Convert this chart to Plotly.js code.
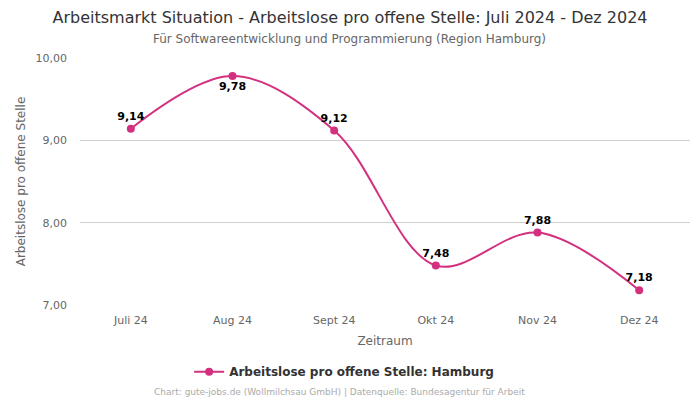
<!DOCTYPE html>
<html>
<head>
<meta charset="utf-8">
<script src="https://cdn.plot.ly/plotly-3.0.1.min.js"></script>
<style>
  html, body { margin: 0; padding: 0; background: #fff; }
  #chart { width: 700px; height: 400px; }
</style>
</head>
<body>
<div id="chart"></div>
<script>
/* Arbeitslose pro offene Stelle — Hamburg, Jul–Dez 2024 */
const months = ["Juli 24", "Aug 24", "Sept 24", "Okt 24", "Nov 24", "Dez 24"];
const values = [9.14, 9.78, 9.12, 7.48, 7.88, 7.18];
const labelPos = ["top center", "bottom center", "top center", "top center", "top center", "top center"];
const yTicks = [7, 8, 9, 10];

const PINK = "#d3317f";
const FONT = "DejaVu Sans, sans-serif";

const trace = {
  type: "scatter", mode: "lines+markers+text",
  name: "Arbeitslose pro offene Stelle: Hamburg",
  x: months, y: values,
  text: values.map(v => v.toFixed(2).replace(".", ",")),
  textposition: labelPos,
  textfont: { family: FONT, size: 11, color: "#000", weight: "bold" },
  line: { color: PINK, width: 2, shape: "spline", smoothing: 1 },
  marker: { color: PINK, size: 8 },
  cliponaxis: false,
  hoverinfo: "x+y",
};

const layout = {
  width: 700, height: 400,
  margin: { l: 80, r: 10, t: 58, b: 95, autoexpand: false },
  paper_bgcolor: "#fff", plot_bgcolor: "#fff",
  font: { family: FONT, size: 11, color: "#666" },
  separators: ",.",
  title: {
    text: "Arbeitsmarkt Situation - Arbeitslose pro offene Stelle: Juli 2024 - Dez 2024",
    font: { family: FONT, size: 16, color: "#333" },
    x: 0.5, xanchor: "center", y: 0.957, yanchor: "middle",
  },
  xaxis: {
    type: "category", range: [-0.5, 5.5], tickangle: 0,
    showgrid: false, zeroline: false, showline: false,
    ticks: "", ticklabelstandoff: 7, tickfont: { size: 11, color: "#666" },
    title: { text: "Zeitraum", font: { size: 12, color: "#666" }, standoff: 10 },
  },
  yaxis: {
    range: [7, 10], tickvals: yTicks, tickformat: ".2f",
    showgrid: true, gridcolor: "#d0d0d0", zeroline: false, showline: false,
    ticks: "", ticklabelstandoff: 12, tickfont: { size: 11, color: "#666" },
    title: { text: "Arbeitslose pro offene Stelle", font: { size: 12, color: "#666" }, standoff: 7 },
  },
  showlegend: true,
  legend: {
    orientation: "h", x: 0.433, xanchor: "center", y: -0.27, yanchor: "middle",
    itemwidth: 30,
    font: { size: 12, color: "#333", weight: "bold" },
  },
  annotations: [
    { xref: "paper", yref: "paper", x: 0.441, y: 1.075, xanchor: "center", yanchor: "middle",
      text: "Für Softwareentwicklung und Programmierung (Region Hamburg)", showarrow: false,
      font: { size: 12, color: "#666" } },
    { xref: "paper", yref: "paper", x: 0.426, y: -0.352, xanchor: "center", yanchor: "middle",
      text: "Chart: gute-jobs.de (Wollmilchsau GmbH) | Datenquelle: Bundesagentur für Arbeit", showarrow: false,
      font: { size: 9, color: "#aaa" } },
  ],
};

Plotly.newPlot("chart", [trace], layout, { displayModeBar: false, responsive: false });
</script>
</body>
</html>
